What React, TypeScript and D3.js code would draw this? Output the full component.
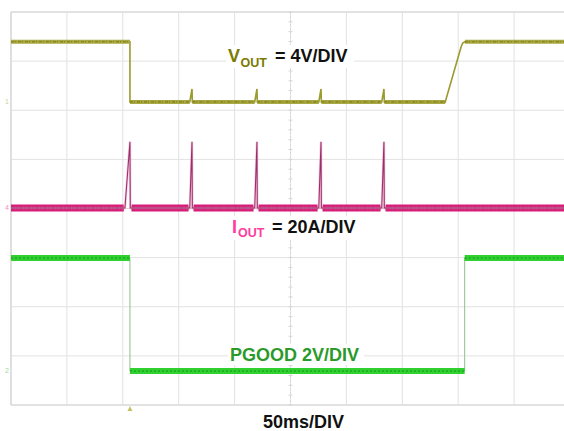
import React from "react";
import * as d3 from "d3";

// Screen geometry of the scope graticule
const W = 564;
const H = 431;
const DIV_X = 10;
const DIV_Y = 8;
const MS_PER_DIV = 50;

// Channel settings: units per division and ground-marker offset (divisions)
const voutScale = 4; // V/div
const voutOffsetDiv = 2.17;
const ioutScale = 20; // A/div
const ioutOffsetDiv = 0.01;
const pgoodScale = 2; // V/div
const pgoodOffsetDiv = -3.31;

// Signal levels
const voutHigh = 4.9; // V
const voutLow = 0; // V
const voutBump = 1.05; // V, restart attempt
const ioutBase = 0; // A
const ioutPeak = 27; // A, restart current pulse
const pgoodHigh = 4.6; // V
const pgoodLow = 0; // V

// Event times (ms)
const faultTime = 106.4;
const faultRise = 4.5; // ramp of the first current pulse
const restartPeaks = [161.9, 220.0, 277.3, 333.6];
const restartRise = 2.0;
const pulseFall = 0.3;
const pgoodRiseTime = 405.8;

// Soft-start recovery of VOUT: [ms, V]
const softStartT = [388.4, 402.5, 404.0, 406.0];
const softStartV = [0, 4.45, 4.8, 4.9];

type Pt = [number, number];

function buildVout(): Pt[] {
  const pts: Pt[] = [
    [0, voutHigh],
    [faultTime, voutHigh],
    [faultTime, voutLow],
  ];
  restartPeaks.forEach((t) => {
    pts.push([t - restartRise, voutLow], [t, voutBump], [t + pulseFall, voutLow]);
  });
  softStartT.forEach((t, i) => pts.push([t, softStartV[i]]));
  pts.push([MS_PER_DIV * DIV_X, voutHigh]);
  return pts;
}

function buildIout(): Pt[] {
  const pts: Pt[] = [
    [0, ioutBase],
    [faultTime - faultRise, ioutBase],
    [faultTime, ioutPeak],
    [faultTime + pulseFall, ioutBase],
  ];
  restartPeaks.forEach((t) => {
    pts.push([t - restartRise, ioutBase], [t, ioutPeak], [t + pulseFall, ioutBase]);
  });
  pts.push([MS_PER_DIV * DIV_X, ioutBase]);
  return pts;
}

function buildPgood(): Pt[] {
  return [
    [0, pgoodHigh],
    [faultTime, pgoodHigh],
    [faultTime, pgoodLow],
    [pgoodRiseTime, pgoodLow],
    [pgoodRiseTime, pgoodHigh],
    [MS_PER_DIV * DIV_X, pgoodHigh],
  ];
}

// Flat stretches of a trace (consecutive points at the same level)
function levelRuns(pts: Pt[]): Pt[][] {
  const runs: Pt[][] = [];
  for (let i = 1; i < pts.length; i++) {
    if (pts[i][1] === pts[i - 1][1] && pts[i][0] > pts[i - 1][0]) {
      runs.push([pts[i - 1], pts[i]]);
    }
  }
  return runs;
}

const FONT = "'Liberation Sans', Arial, Helvetica, sans-serif";

export default function App() {
  const x = d3.scaleLinear().domain([0, MS_PER_DIV * DIV_X]).range([11, 570]);
  const yDiv = d3.scaleLinear().domain([-DIV_Y / 2, DIV_Y / 2]).range([405, 12]);

  const chY = (scale: number, off: number) => (v: number) => yDiv(off + v / scale);
  const yV = chY(voutScale, voutOffsetDiv);
  const yI = chY(ioutScale, ioutOffsetDiv);
  const yP = chY(pgoodScale, pgoodOffsetDiv);

  const lineFor = (fy: (v: number) => number) =>
    d3
      .line<Pt>()
      .x((d) => x(d[0]))
      .y((d) => fy(d[1]));

  const vout = buildVout();
  const iout = buildIout();
  const pgood = buildPgood();

  const xTicks = d3.range(0, DIV_X + 1).map((i) => i * MS_PER_DIV);
  const yTicks = d3.range(-DIV_Y / 2, DIV_Y / 2 + 1);
  const minorX = d3.range(0, DIV_X * 5 + 1).map((i) => (i * MS_PER_DIV) / 5);
  const minorY = d3.range(-DIV_Y * 2.5, DIV_Y * 2.5 + 1).map((i) => i / 5);

  const xc = x((MS_PER_DIV * DIV_X) / 2);
  const yc = yDiv(0);

  const runSegs = (pts: Pt[], fy: (v: number) => number, trim: number) =>
    levelRuns(pts).map((r) => {
      const x0 = x(r[0][0]) + (r[0][0] > 0 ? trim : 0);
      const x1 = x(r[1][0]) - (r[1][0] < MS_PER_DIV * DIV_X ? trim : 0);
      return { x0, x1, y: fy(r[0][1]) };
    });

  const voutRuns = runSegs(vout, yV, 0);
  const ioutRuns = runSegs(iout, yI, 1.2);
  const pgoodRuns = runSegs(pgood, yP, 0);

  return (
    <svg
      width={W}
      height={H}
      viewBox={`0 0 ${W} ${H}`}
      style={{ position: "absolute", left: 0, top: 0, background: "#fff" }}
    >
      <rect x={0} y={0} width={W} height={H} fill="#fff" />
      <defs>
        <clipPath id="plot">
          <rect x={x(0)} y={yDiv(4)} width={x(500) - x(0)} height={yDiv(-4) - yDiv(4)} />
        </clipPath>
      </defs>

      {/* graticule */}
      <g stroke="#e2e2e2" strokeWidth={1}>
        {xTicks.map((t) => (
          <line key={"gx" + t} x1={x(t)} x2={x(t)} y1={yDiv(4)} y2={yDiv(-4)} />
        ))}
        {yTicks.map((t) => (
          <line key={"gy" + t} x1={x(0)} x2={x(500)} y1={yDiv(t)} y2={yDiv(t)} />
        ))}
      </g>
      <g stroke="#d4d4d4" strokeWidth={1.2}>
        <line x1={x(0)} x2={x(0)} y1={yDiv(4)} y2={yDiv(-4)} />
        <line x1={x(0)} x2={x(500)} y1={yDiv(4)} y2={yDiv(4)} />
        <line x1={x(0)} x2={x(500)} y1={yDiv(-4)} y2={yDiv(-4)} />
      </g>
      {/* centre axes with minor ticks */}
      <g stroke="#d6d6d6" strokeWidth={1}>
        <line x1={xc} x2={xc} y1={yDiv(4)} y2={yDiv(-4)} strokeDasharray="2,2" />
        <line x1={x(0)} x2={x(500)} y1={yc} y2={yc} strokeDasharray="2,2" />
        {minorY.map((v) => (
          <line key={"my" + v} x1={xc - 2} x2={xc + 2} y1={yDiv(v)} y2={yDiv(v)} />
        ))}
        {minorX.map((t) => (
          <line key={"mx" + t} x1={x(t)} x2={x(t)} y1={yc - 2} y2={yc + 2} />
        ))}
      </g>

      {/* label backgrounds */}
      <g fill="#fff">
        <rect x={226} y={45} width={128} height={23} />
        <rect x={230} y={216} width={130} height={24} />
        <rect x={228} y={344} width={136} height={21} />
      </g>

      <g clipPath="url(#plot)">
        {/* VOUT */}
        <path d={lineFor(yV)(vout) || ""} fill="none" stroke="#9a9a2e" strokeWidth={1.6} />
        {voutRuns.map((s, i) => (
          <g key={"vr" + i}>
            <line x1={s.x0} x2={s.x1} y1={s.y} y2={s.y} stroke="#a8a846" strokeWidth={4} />
            <line x1={s.x0} x2={s.x1} y1={s.y} y2={s.y} stroke="#8a8a1c" strokeWidth={1.6} strokeDasharray="3,1,1,2" />
          </g>
        ))}

        {/* IOUT */}
        {ioutRuns.map((s, i) => (
          <g key={"ir" + i}>
            <line x1={s.x0} x2={s.x1} y1={s.y} y2={s.y} stroke="#d81a78" strokeWidth={7} />
            <line x1={s.x0} x2={s.x1} y1={s.y} y2={s.y} stroke="#b8005e" strokeWidth={3} strokeDasharray="4,1,2,1" />
          </g>
        ))}
        <path d={lineFor(yI)(iout) || ""} fill="none" stroke="#f0b8d2" strokeWidth={2.6} strokeOpacity={0.6} />
        <path d={lineFor(yI)(iout) || ""} fill="none" stroke="#9c2e6c" strokeWidth={1.1} />

        {/* PGOOD */}
        <path d={lineFor(yP)(pgood) || ""} fill="none" stroke="#8fbf8f" strokeWidth={1} />
        {pgoodRuns.map((s, i) => (
          <g key={"pr" + i}>
            <line x1={s.x0} x2={s.x1} y1={s.y} y2={s.y} stroke="#30d030" strokeWidth={6} />
            <line x1={s.x0} x2={s.x1} y1={s.y} y2={s.y} stroke="#1ea81e" strokeWidth={1.5} strokeDasharray="2,2" />
          </g>
        ))}
      </g>

      {/* channel ground markers */}
      <g fontFamily={FONT} fontSize={7} textAnchor="middle">
        <text x={7} y={yV(0) + 2} fill="#c8c87a" opacity={0.8}>1</text>
        <text x={7} y={yI(0) + 2} fill="#e07aaa" opacity={0.8}>4</text>
        <text x={7} y={yP(0) + 2} fill="#8ad08a" opacity={0.8}>2</text>
      </g>
      {/* trigger position marker */}
      <path
        d={`M${x(faultTime)},${yDiv(-4) + 1} l-2.5,5 h5 z`}
        fill="#b4b43c"
        opacity={0.8}
      />

      {/* channel labels */}
      <g fontFamily={FONT} fontWeight="bold">
        <text y={62} fontSize={18}>
          <tspan x={228} fill="#7a7a00">V</tspan>
          <tspan x={240.5} dy={5} fontSize={12.5} fill="#7a7a00">OUT</tspan>
          <tspan x={275} dy={-5} fill="#111">= 4V/DIV</tspan>
        </text>
        <text y={233} fontSize={18}>
          <tspan x={232} fill="#ff3d9e">I</tspan>
          <tspan x={238} dy={4} fontSize={12.5} fill="#ff3d9e">OUT</tspan>
          <tspan x={272} dy={-4} fill="#111">= 20A/DIV</tspan>
        </text>
        <text x={230} y={361} fontSize={18} fill="#2a9a2a">PGOOD 2V/DIV</text>
        <text x={263} y={428} fontSize={18} fill="#111">50ms/DIV</text>
      </g>
    </svg>
  );
}
